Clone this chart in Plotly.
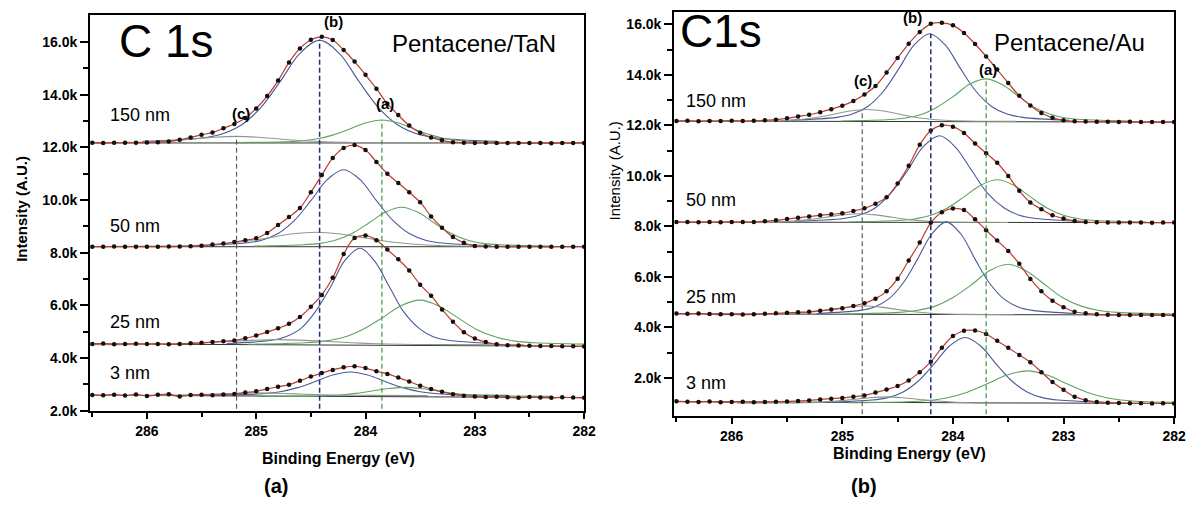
import plotly.graph_objects as go

W, H = 1201, 505

# ---------------- data ----------------
ENERGY = [286.5, 286.4, 286.3, 286.2, 286.1, 286.0, 285.9, 285.8, 285.7, 285.6,
          285.5, 285.4, 285.3, 285.2, 285.1, 285.0, 284.9, 284.8, 284.7, 284.6,
          284.5, 284.4, 284.3, 284.2, 284.1, 284.0, 283.9, 283.8, 283.7, 283.6,
          283.5, 283.4, 283.3, 283.2, 283.1, 283.0, 282.9, 282.8, 282.7, 282.6,
          282.5, 282.4, 282.3, 282.2, 282.1, 282.0]

# Panel (a) Pentacene/TaN measured intensities
A150 = [12180, 12170, 12180, 12175, 12180, 12185, 12200, 12230, 12290, 12380,
        12480, 12570, 12730, 12890, 13120, 13480, 13950, 14540, 15230, 15760,
        16090, 16200, 16080, 15700, 15260, 14760, 14230, 13660, 13230, 12830,
        12560, 12380, 12270, 12200, 12180, 12170, 12175, 12165, 12170, 12170,
        12165, 12170, 12160, 12170, 12165, 12170]
A50 = [8230, 8225, 8235, 8230, 8228, 8232, 8230, 8235, 8240, 8250,
       8270, 8310, 8350, 8410, 8480, 8550, 8750, 9050, 9360, 9700,
       10300, 10950, 11600, 11980, 12090, 11900, 11450, 11000, 10650, 10300,
       9920, 9380, 8950, 8600, 8380, 8260, 8235, 8230, 8225, 8230,
       8228, 8230, 8225, 8232, 8228, 8230]
A25 = [4540, 4550, 4530, 4540, 4545, 4535, 4540, 4530, 4540, 4560,
       4580, 4610, 4640, 4670, 4750, 4860, 4990, 5130, 5300, 5560,
       5950, 6400, 7050, 7950, 8560, 8660, 8480, 8120, 7750, 7330,
       6790, 6370, 5850, 5380, 4980, 4740, 4610, 4530, 4490, 4480,
       4470, 4460, 4455, 4450, 4450, 4445]
A3 = [2600, 2590, 2610, 2580, 2620, 2560, 2610, 2630, 2540, 2600,
      2610, 2590, 2620, 2640, 2690, 2740, 2830, 2910, 2990, 3140,
      3300, 3430, 3550, 3650, 3690, 3620, 3500, 3400, 3260, 3110,
      2950, 2830, 2720, 2630, 2570, 2540, 2520, 2530, 2510, 2490,
      2520, 2500, 2490, 2510, 2500, 2490]

# Panel (b) Pentacene/Au measured intensities
B150 = [12170, 12180, 12160, 12175, 12170, 12180, 12170, 12180, 12200, 12225,
        12280, 12350, 12420, 12520, 12640, 12780, 12960, 13220, 13560, 14090,
        14670, 15230, 15700, 16020, 16060, 15960, 15660, 15220, 14730, 14210,
        13680, 13170, 12790, 12490, 12300, 12200, 12160, 12150, 12140, 12145,
        12135, 12140, 12130, 12135, 12130, 12130]
B50 = [8170, 8175, 8165, 8170, 8168, 8172, 8170, 8175, 8200, 8240,
       8290, 8340, 8390, 8440, 8480, 8520, 8610, 8720, 8900, 9150,
       9700, 10400, 11230, 11800, 12000, 11950, 11700, 11280, 10900, 10520,
       10000, 9410, 8950, 8680, 8440, 8310, 8210, 8170, 8160, 8155,
       8150, 8155, 8150, 8148, 8150, 8150]
B25 = [4550, 4540, 4550, 4530, 4520, 4520, 4510, 4520, 4540, 4560,
       4580, 4600, 4620, 4660, 4710, 4760, 4850, 4960, 5140, 5430,
       5930, 6650, 7360, 8140, 8560, 8710, 8650, 8280, 7850, 7440,
       7030, 6520, 5920, 5430, 5060, 4800, 4620, 4560, 4520, 4500,
       4495, 4490, 4495, 4490, 4488, 4490]
B3 = [1080, 1060, 1050, 1070, 1040, 1050, 1060, 1040, 1050, 1060,
      1070, 1090, 1110, 1150, 1180, 1210, 1260, 1310, 1420, 1540,
      1680, 1900, 2230, 2640, 3200, 3660, 3870, 3880, 3740, 3470,
      3200, 2910, 2620, 2230, 1840, 1530, 1260, 1120, 1050, 1020,
      1010, 1000, 995, 990, 995, 990]

# linear backgrounds (left value, right value)
A_BASE = {"150": (12170, 12170), "50": (8230, 8230), "25": (4540, 4450), "3": (2590, 2500)}
B_BASE = {"150": (12170, 12130), "50": (8170, 8150), "25": (4540, 4490), "3": (1060, 990)}

# fitted components (x, y)
A150_B = ([282.80, 283.34, 283.52, 283.70, 283.88, 284.06, 284.24, 284.42, 284.60, 284.78, 284.96, 285.14, 285.32, 285.50, 286.04],
          [12229, 12357, 12502, 12841, 13504, 14506, 15571, 16070, 15571, 14506, 13504, 12841, 12502, 12357, 12229])
A150_A = ([282.50, 282.95, 283.10, 283.25, 283.40, 283.55, 283.70, 283.85, 284.00, 284.15, 284.30, 284.45, 284.60, 284.75, 285.20],
          [12183, 12212, 12244, 12320, 12468, 12691, 12929, 13040, 12929, 12691, 12468, 12320, 12244, 12212, 12183])
A150_C = ([283.38, 283.98, 284.18, 284.38, 284.58, 284.78, 284.98, 285.18, 285.38, 285.58, 285.78, 285.98, 286.18, 286.38, 286.98],
          [12174, 12182, 12191, 12213, 12256, 12320, 12388, 12420, 12388, 12320, 12256, 12213, 12191, 12182, 12174])
A50_B = ([282.85, 283.30, 283.45, 283.60, 283.75, 283.90, 284.05, 284.20, 284.35, 284.50, 284.65, 284.80, 284.95, 285.10, 285.55],
         [8274, 8370, 8478, 8732, 9229, 9979, 10776, 11150, 10776, 9979, 9229, 8732, 8478, 8370, 8274])
A50_A = ([282.32, 282.77, 282.92, 283.07, 283.22, 283.37, 283.52, 283.67, 283.82, 283.97, 284.12, 284.27, 284.42, 284.57, 285.02],
         [8252, 8302, 8357, 8488, 8743, 9128, 9538, 9730, 9538, 9128, 8743, 8488, 8357, 8302, 8252])
A50_C = ([282.43, 283.10, 283.33, 283.55, 283.78, 284.00, 284.23, 284.45, 284.68, 284.90, 285.13, 285.35, 285.58, 285.80, 286.48],
         [8238, 8256, 8277, 8325, 8418, 8559, 8710, 8780, 8710, 8559, 8418, 8325, 8277, 8256, 8238])
A25_B = ([282.84, 283.24, 283.38, 283.51, 283.65, 283.78, 283.92, 284.05, 284.19, 284.32, 284.46, 284.59, 284.73, 284.86, 285.27],
         [4555, 4676, 4812, 5131, 5755, 6698, 7700, 8170, 7700, 6698, 5755, 5131, 4812, 4676, 4555])
A25_A = ([281.93, 282.45, 282.63, 282.80, 282.98, 283.15, 283.33, 283.50, 283.68, 283.85, 284.03, 284.20, 284.38, 284.55, 285.08],
         [4526, 4582, 4645, 4792, 5081, 5518, 5982, 6200, 5982, 5518, 5081, 4792, 4645, 4582, 4526])
A25_C = ([282.55, 283.30, 283.55, 283.80, 284.05, 284.30, 284.55, 284.80, 285.05, 285.30, 285.55, 285.80, 286.05, 286.30, 287.05],
         [4503, 4510, 4517, 4534, 4568, 4620, 4674, 4700, 4674, 4620, 4568, 4534, 4517, 4510, 4503])
A3_B = ([282.70, 283.18, 283.34, 283.50, 283.66, 283.82, 283.98, 284.14, 284.30, 284.46, 284.62, 284.78, 284.94, 285.10, 285.58],
        [2584, 2613, 2647, 2725, 2878, 3109, 3355, 3470, 3355, 3109, 2878, 2725, 2647, 2613, 2584])
A3_A = ([282.29, 282.74, 282.89, 283.04, 283.19, 283.34, 283.49, 283.64, 283.79, 283.94, 284.09, 284.24, 284.39, 284.54, 284.99],
        [2545, 2557, 2570, 2600, 2660, 2750, 2845, 2890, 2845, 2750, 2660, 2600, 2570, 2557, 2545])
A3_C = ([283.43, 283.95, 284.13, 284.30, 284.48, 284.65, 284.83, 285.00, 285.18, 285.35, 285.53, 285.70, 285.88, 286.05, 286.58],
        [2582, 2585, 2589, 2597, 2614, 2640, 2667, 2680, 2667, 2640, 2614, 2597, 2589, 2585, 2582])

B150_B = ([282.95, 283.37, 283.51, 283.65, 283.79, 283.93, 284.07, 284.21, 284.35, 284.49, 284.63, 284.77, 284.91, 285.05, 285.47],
          [12202, 12317, 12446, 12749, 13340, 14235, 15185, 15630, 15185, 14235, 13340, 12749, 12446, 12317, 12202])
B150_A = ([282.40, 282.83, 282.98, 283.12, 283.27, 283.41, 283.56, 283.70, 283.85, 283.99, 284.14, 284.28, 284.43, 284.57, 285.01],
          [12175, 12231, 12294, 12441, 12728, 13162, 13624, 13840, 13624, 13162, 12728, 12441, 12294, 12231, 12175])
B150_C = ([283.43, 283.88, 284.03, 284.18, 284.33, 284.48, 284.63, 284.78, 284.93, 285.08, 285.23, 285.38, 285.53, 285.68, 286.13],
          [12157, 12173, 12191, 12233, 12314, 12438, 12569, 12630, 12569, 12438, 12314, 12233, 12191, 12173, 12157])
B50_B = ([282.82, 283.25, 283.40, 283.54, 283.69, 283.83, 283.98, 284.12, 284.27, 284.41, 284.56, 284.70, 284.85, 284.99, 285.43],
         [8202, 8315, 8442, 8742, 9326, 10211, 11150, 11590, 11150, 10211, 9326, 8742, 8442, 8315, 8202])
B50_A = ([282.25, 282.70, 282.85, 283.00, 283.15, 283.30, 283.45, 283.60, 283.75, 283.90, 284.05, 284.20, 284.35, 284.50, 284.95],
         [8176, 8232, 8295, 8442, 8731, 9168, 9632, 9850, 9632, 9168, 8731, 8442, 8295, 8232, 8176])
B50_C = ([283.50, 283.95, 284.10, 284.25, 284.40, 284.55, 284.70, 284.85, 285.00, 285.15, 285.30, 285.45, 285.60, 285.75, 286.20],
         [8155, 8167, 8180, 8210, 8270, 8360, 8455, 8500, 8455, 8360, 8270, 8210, 8180, 8167, 8155])
B25_B = ([282.89, 283.28, 283.41, 283.54, 283.67, 283.80, 283.93, 284.06, 284.19, 284.32, 284.45, 284.58, 284.71, 284.84, 285.23],
         [4555, 4677, 4813, 5133, 5759, 6704, 7709, 8180, 7709, 6704, 5759, 5133, 4813, 4677, 4555])
B25_A = ([282.02, 282.51, 282.68, 282.84, 283.01, 283.17, 283.34, 283.50, 283.67, 283.83, 284.00, 284.16, 284.33, 284.49, 284.99],
         [4530, 4596, 4670, 4844, 5184, 5698, 6244, 6500, 6244, 5698, 5184, 4844, 4670, 4596, 4530])
B25_C = ([283.45, 283.90, 284.05, 284.20, 284.35, 284.50, 284.65, 284.80, 284.95, 285.10, 285.25, 285.40, 285.55, 285.70, 286.15],
         [4505, 4517, 4530, 4560, 4620, 4710, 4805, 4850, 4805, 4710, 4620, 4560, 4530, 4517, 4505])
B3_B = ([282.63, 283.05, 283.19, 283.33, 283.47, 283.61, 283.75, 283.89, 284.03, 284.17, 284.31, 284.45, 284.59, 284.73, 285.15],
        [1039, 1125, 1221, 1447, 1889, 2557, 3267, 3600, 3267, 2557, 1889, 1447, 1221, 1125, 1039])
B3_A = ([281.71, 282.25, 282.43, 282.61, 282.79, 282.97, 283.15, 283.33, 283.51, 283.69, 283.87, 284.05, 284.23, 284.41, 284.95],
        [1019, 1061, 1109, 1220, 1438, 1767, 2116, 2280, 2116, 1767, 1438, 1220, 1109, 1061, 1019])
B3_C = ([283.25, 283.70, 283.85, 284.00, 284.15, 284.30, 284.45, 284.60, 284.75, 284.90, 285.05, 285.20, 285.35, 285.50, 285.95],
        [1004, 1012, 1021, 1043, 1086, 1150, 1218, 1250, 1218, 1150, 1086, 1043, 1021, 1012, 1004])

# peak positions (a), (b), (c) and the tops of the dashed markers
A_PEAKS = [283.85, 284.42, 285.18]
A_PEAK_TOPS = [13040, 16100, 12420]
B_PEAKS = [283.70, 284.20, 284.82]
B_PEAK_TOPS = [13840, 15630, 12630]

THICKNESS_LABELS = ["150 nm", "50 nm", "25 nm", "3 nm"]
Y_TICKS = [2000, 4000, 6000, 8000, 10000, 12000, 14000, 16000]
Y_TICK_TEXT = ["2.0k", "4.0k", "6.0k", "8.0k", "10.0k", "12.0k", "14.0k", "16.0k"]
X_TICKS = [286, 285, 284, 283, 282]

# ---------------- styles ----------------
FONT = "Arial, Liberation Sans, sans-serif"
C_DOT = "#111111"
C_FIT = "#c0392b"
C_BLUE = "#4a5a98"
C_GREEN = "#5fa25f"
C_GRAY = "#8a9a8a"
C_BASE = "#333333"

fig = go.Figure()


def add_spectrum(xa, ya, intens, base, comps):
    fig.add_trace(go.Scatter(x=[ENERGY[0], ENERGY[-1]], y=list(base), mode="lines",
                             line=dict(color=C_BASE, width=1), xaxis=xa, yaxis=ya,
                             hoverinfo="skip"))
    colors = [C_BLUE, C_GREEN, C_GRAY]
    for (cx, cy), col in zip(comps, colors):
        fig.add_trace(go.Scatter(x=cx, y=cy, mode="lines",
                                 line=dict(color=col, width=1.1, shape="spline"),
                                 xaxis=xa, yaxis=ya))
    fig.add_trace(go.Scatter(x=ENERGY, y=intens, mode="lines",
                             line=dict(color=C_FIT, width=1.2, shape="spline"),
                             xaxis=xa, yaxis=ya))
    fig.add_trace(go.Scatter(x=ENERGY, y=intens, mode="markers",
                             marker=dict(color=C_DOT, size=4.5),
                             xaxis=xa, yaxis=ya))


add_spectrum("x", "y", A150, A_BASE["150"], [A150_B, A150_A, A150_C])
add_spectrum("x", "y", A50, A_BASE["50"], [A50_B, A50_A, A50_C])
add_spectrum("x", "y", A25, A_BASE["25"], [A25_B, A25_A, A25_C])
add_spectrum("x", "y", A3, A_BASE["3"], [A3_B, A3_A, A3_C])
add_spectrum("x2", "y2", B150, B_BASE["150"], [B150_B, B150_A, B150_C])
add_spectrum("x2", "y2", B50, B_BASE["50"], [B50_B, B50_A, B50_C])
add_spectrum("x2", "y2", B25, B_BASE["25"], [B25_B, B25_A, B25_C])
add_spectrum("x2", "y2", B3, B_BASE["3"], [B3_B, B3_A, B3_C])

DASH_COLORS = ["#2e8b2e", "#1c2a78", "#555555"]
for peaks, tops, xa, ya, bottom in [(A_PEAKS, A_PEAK_TOPS, "x", "y", 2080),
                                    (B_PEAKS, B_PEAK_TOPS, "x2", "y2", 560)]:
    for p, t, col in zip(peaks, tops, DASH_COLORS):
        fig.add_trace(go.Scatter(x=[p, p], y=[bottom, t], mode="lines",
                                 line=dict(color=col, width=1.5 if col == "#1c2a78" else 1.1,
                                           dash="5px,3px"),
                                 xaxis=xa, yaxis=ya))


def xaxis_cfg(domain):
    return dict(domain=domain, range=[286.52, 282.0], tickvals=X_TICKS,
                ticktext=[str(v) for v in X_TICKS],
                ticks="outside", ticklen=6, tickwidth=2, tickcolor="black",
                minor=dict(tickvals=[286.5, 285.5, 284.5, 283.5, 282.5], ticks="outside",
                           ticklen=4, tickwidth=1.5, tickcolor="black", showgrid=False),
                showline=True, linewidth=2, linecolor="black", mirror=True,
                showgrid=False, zeroline=False,
                tickfont=dict(family=FONT, size=14, color="black", weight="bold"))


def yaxis_cfg(domain, rng):
    return dict(domain=domain, range=rng, tickvals=Y_TICKS, ticktext=Y_TICK_TEXT,
                ticks="outside", ticklen=8, tickwidth=2, tickcolor="black",
                minor=dict(tickvals=[3000, 5000, 7000, 9000, 11000, 13000, 15000], ticks="outside",
                           ticklen=5, tickwidth=1.5, tickcolor="black", showgrid=False),
                showline=True, linewidth=2, linecolor="black", mirror=True,
                showgrid=False, zeroline=False,
                tickfont=dict(family=FONT, size=14, color="black", weight="bold"))


xa = xaxis_cfg([91 / W, 590 / W]); xa["anchor"] = "y"
ya = yaxis_cfg([1 - 417 / H, 1 - 15 / H], [1983, 17037]); ya["anchor"] = "x"
xb = xaxis_cfg([681 / W, 1186 / W]); xb["anchor"] = "y2"
yb = yaxis_cfg([1 - 421.7 / H, 1 - 12.3 / H], [500, 16483]); yb["anchor"] = "x2"

annotations = []


def text(px, py, s, size, bold=False, xanchor="left", yanchor="middle", angle=0):
    annotations.append(dict(x=px / W, y=1 - py / H, xref="paper", yref="paper", text=s,
                            showarrow=False, xanchor=xanchor, yanchor=yanchor, textangle=angle,
                            font=dict(family=FONT, size=size, color="black",
                                      weight="bold" if bold else "normal")))


# panel (a)
text(118, 42, "C 1s", 46)
text(479, 44, "Pentacene/TaN", 24, xanchor="center")
for lbl, py in zip(THICKNESS_LABELS, [117, 229, 327, 378]):
    text(109, py, lbl, 18)
text(337, 22, "(b)", 15, bold=True, xanchor="center")
text(389, 105, "(a)", 15, bold=True, xanchor="center")
text(243, 115, "(c)", 15, bold=True, xanchor="center")
text(342, 465, "Binding Energy (eV)", 16, bold=True, xanchor="center")
text(279, 493, "(a)", 20, bold=True, xanchor="center")
text(21, 212, "Intensity (A.U.)", 15, bold=True, xanchor="center", angle=-90)

# panel (b)
text(685, 31, "C1s", 46)
text(1080, 43, "Pentacene/Au", 24, xanchor="center")
for lbl, py in zip(THICKNESS_LABELS, [102, 203, 301, 388]):
    text(691, py, lbl, 18)
text(922, 18, "(b)", 15, bold=True, xanchor="center")
text(998, 70, "(a)", 15, bold=True, xanchor="center")
text(872, 82, "(c)", 15, bold=True, xanchor="center")
text(919, 460, "Binding Energy (eV)", 16, bold=True, xanchor="center")
text(873, 493, "(b)", 20, bold=True, xanchor="center")
text(621, 173, "Intensity (A.U.)", 15, bold=False, xanchor="center", angle=-90)

fig.update_layout(width=W, height=H, margin=dict(l=0, r=0, t=0, b=0),
                  paper_bgcolor="white", plot_bgcolor="white", showlegend=False,
                  xaxis=xa, yaxis=ya, xaxis2=xb, yaxis2=yb, annotations=annotations,
                  font=dict(family=FONT, color="black"))

fig.write_html("out.html")
